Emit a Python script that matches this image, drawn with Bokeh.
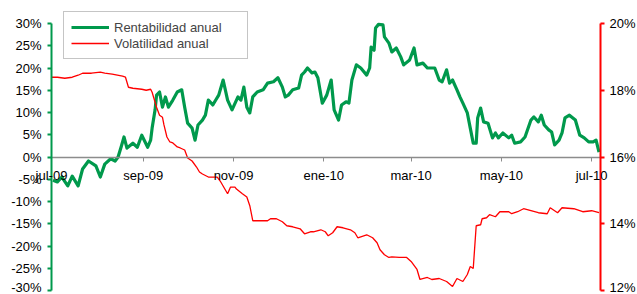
import pandas as pd
from bokeh.plotting import figure
from bokeh.models import (Range1d, LinearAxis, DatetimeAxis, FixedTicker, PrintfTickFormatter,
                          Legend, LegendItem, ColumnDataSource, Label)
from bokeh.embed import file_html
from bokeh.resources import INLINE

# ---------------- data ----------------
rent_dates = [
    "2009-07-02", "2009-07-05", "2009-07-08", "2009-07-12", "2009-07-15", "2009-07-19", "2009-07-22",
    "2009-07-26", "2009-07-31", "2009-08-03", "2009-08-06", "2009-08-10", "2009-08-13", "2009-08-15",
    "2009-08-17", "2009-08-19", "2009-08-21", "2009-08-25", "2009-08-28", "2009-08-31", "2009-09-04",
    "2009-09-06", "2009-09-07", "2009-09-09", "2009-09-10", "2009-09-12", "2009-09-14", "2009-09-16",
    "2009-09-18", "2009-09-21", "2009-09-24", "2009-09-27", "2009-09-29", "2009-10-01", "2009-10-04",
    "2009-10-06", "2009-10-08", "2009-10-11", "2009-10-13", "2009-10-15", "2009-10-18", "2009-10-20",
    "2009-10-22", "2009-10-25", "2009-10-28", "2009-10-31", "2009-11-04", "2009-11-06", "2009-11-08",
    "2009-11-10", "2009-11-12", "2009-11-14", "2009-11-17", "2009-11-21", "2009-11-24", "2009-11-28",
    "2009-12-01", "2009-12-04", "2009-12-06", "2009-12-08", "2009-12-11", "2009-12-15", "2009-12-17",
    "2009-12-19", "2009-12-21", "2009-12-24", "2009-12-26", "2009-12-28", "2009-12-31", "2010-01-03",
    "2010-01-06", "2010-01-08", "2010-01-11", "2010-01-13", "2010-01-16", "2010-01-18", "2010-01-20",
    "2010-01-23", "2010-01-26", "2010-01-30", "2010-02-01", "2010-02-02", "2010-02-04", "2010-02-05",
    "2010-02-07", "2010-02-10", "2010-02-11", "2010-02-14", "2010-02-16", "2010-02-19", "2010-02-22",
    "2010-02-24", "2010-02-28", "2010-03-03", "2010-03-05", "2010-03-09", "2010-03-12", "2010-03-17",
    "2010-03-20", "2010-03-22", "2010-03-25", "2010-03-27", "2010-03-29", "2010-04-01", "2010-04-03",
    "2010-04-05", "2010-04-08", "2010-04-10", "2010-04-12", "2010-04-14", "2010-04-15", "2010-04-17",
    "2010-04-19", "2010-04-22", "2010-04-25", "2010-04-27", "2010-04-29", "2010-05-02", "2010-05-06",
    "2010-05-08", "2010-05-10", "2010-05-14", "2010-05-17", "2010-05-21", "2010-05-23", "2010-05-26",
    "2010-05-28", "2010-05-30", "2010-06-02", "2010-06-04", "2010-06-06", "2010-06-09", "2010-06-11",
    "2010-06-13", "2010-06-16", "2010-06-20", "2010-06-23", "2010-06-26", "2010-06-29", "2010-07-02",
    "2010-07-04", "2010-07-06",
]
rent_values = [
    -5.2, -5.6, -4.5, -6.5, -4.3, -6.5, -2.7,
    -0.9, -2.0, -4.5, -1.6, -0.4, -0.9, 0.0,
    2.2, 4.5, 2.0, 3.1, 2.2, 4.9, 2.2,
    3.8, 6.5, 10.6, 13.9, 14.6, 11.2, 13.5,
    11.2, 12.8, 14.6, 15.1, 11.2, 7.6, 6.5,
    3.8, 7.2, 8.3, 9.4, 12.8, 11.7, 12.8,
    13.9, 17.3, 12.8, 10.6, 13.5, 12.8, 15.7,
    11.2, 9.9, 13.5, 14.6, 15.1, 16.6, 16.9,
    17.8, 15.7, 13.5, 13.9, 15.1, 15.5, 18.4,
    19.1, 20.0, 18.9, 19.1, 17.8, 12.1, 13.9,
    17.3, 10.6, 8.3, 11.7, 12.4, 12.1, 17.3,
    20.7, 20.0, 18.4, 20.0, 24.7, 24.0, 29.0,
    29.8, 29.7, 27.0, 25.6, 23.6, 24.5, 22.5,
    20.7, 21.8, 24.5, 20.7, 21.1, 20.0, 20.0,
    17.3, 16.9, 19.6, 16.6, 17.3, 15.1, 13.5,
    12.1, 9.9, 6.5, 3.1, 3.1, 8.8, 11.0,
    7.9, 7.6, 4.3, 5.4, 4.3, 5.4, 4.3,
    4.9, 3.1, 3.4, 4.5, 8.3, 9.0, 7.9,
    9.4, 7.2, 6.1, 5.6, 2.7, 3.8, 5.4,
    8.8, 9.4, 8.3, 4.9, 4.3, 3.4, 3.4,
    3.8, 1.1,
]

vol_dates = [
    "2009-07-01", "2009-07-05", "2009-07-10", "2009-07-15", "2009-07-19", "2009-07-22", "2009-07-28",
    "2009-08-03", "2009-08-06", "2009-08-11", "2009-08-18", "2009-08-20", "2009-08-22", "2009-08-25",
    "2009-08-31", "2009-09-03", "2009-09-06", "2009-09-07", "2009-09-08", "2009-09-10", "2009-09-12",
    "2009-09-14", "2009-09-15", "2009-09-17", "2009-09-19", "2009-09-21", "2009-09-24", "2009-09-26",
    "2009-09-29", "2009-10-01", "2009-10-04", "2009-10-07", "2009-10-09", "2009-10-11", "2009-10-15",
    "2009-10-21", "2009-10-23", "2009-10-28", "2009-10-30", "2009-11-02", "2009-11-03", "2009-11-07",
    "2009-11-10", "2009-11-12", "2009-11-14", "2009-11-18", "2009-11-24", "2009-11-26", "2009-11-30",
    "2009-12-04", "2009-12-07", "2009-12-11", "2009-12-16", "2009-12-19", "2009-12-23", "2009-12-25",
    "2009-12-30", "2010-01-02", "2010-01-04", "2010-01-07", "2010-01-10", "2010-01-14", "2010-01-19",
    "2010-01-22", "2010-01-24", "2010-01-28", "2010-01-30", "2010-02-03", "2010-02-06", "2010-02-08",
    "2010-02-11", "2010-02-14", "2010-02-16", "2010-02-21", "2010-02-26", "2010-03-01", "2010-03-05",
    "2010-03-07", "2010-03-12", "2010-03-15", "2010-03-20", "2010-03-25", "2010-03-29", "2010-04-01",
    "2010-04-05", "2010-04-08", "2010-04-10", "2010-04-12", "2010-04-14", "2010-04-17", "2010-04-18",
    "2010-04-21", "2010-04-23", "2010-04-27", "2010-04-30", "2010-05-06", "2010-05-08", "2010-05-12",
    "2010-05-16", "2010-05-21", "2010-05-26", "2010-06-01", "2010-06-03", "2010-06-08", "2010-06-11",
    "2010-06-19", "2010-06-25", "2010-07-01", "2010-07-06",
]
vol_values = [
    18.39, 18.39, 18.36, 18.39, 18.45, 18.51, 18.51,
    18.54, 18.51, 18.48, 18.42, 18.39, 18.09, 18.06,
    18.03, 18.00, 18.03, 17.94, 17.79, 17.49, 17.25,
    17.19, 16.96, 16.60, 16.45, 16.42, 16.30, 16.27,
    16.21, 15.97, 15.88, 15.70, 15.55, 15.49, 15.40,
    15.40, 15.28, 14.90, 15.10, 15.10, 15.04, 14.90,
    14.80, 14.54, 14.09, 14.09, 14.09, 14.15, 14.15,
    14.06, 13.94, 13.91, 13.85, 13.70, 13.76, 13.76,
    13.82, 13.76, 13.64, 13.73, 13.91, 13.88, 13.82,
    13.73, 13.58, 13.64, 13.67, 13.58, 13.43, 13.22,
    13.07, 12.99, 13.01, 12.99, 12.99, 12.87, 12.63,
    12.33, 12.39, 12.33, 12.36, 12.27, 12.12, 12.36,
    12.27, 12.48, 12.72, 12.66, 13.94, 13.97, 14.15,
    14.18, 14.27, 14.21, 14.36, 14.36, 14.30, 14.36,
    14.45, 14.39, 14.33, 14.30, 14.48, 14.33, 14.48,
    14.45, 14.36, 14.39, 14.33,
]

left_ticks = [-30, -25, -20, -15, -10, -5, 0, 5, 10, 15, 20, 25, 30]
right_ticks = [12, 14, 16, 18, 20]
x_tick_dates = ["2009-07-01", "2009-09-01", "2009-11-01", "2010-01-01", "2010-03-01", "2010-05-01", "2010-07-01"]
x_tick_labels = ["jul-09", "sep-09", "nov-09", "ene-10", "mar-10", "may-10", "jul-10"]
x_axis_level = 0
x_start = "2009-07-01"
x_end = "2010-07-07"

# ---------------- layout / style ----------------
W, H = 637, 294
PLOT_L, PLOT_R, PLOT_T, PLOT_B = 51, 600, 23, 290   # pixel box of the axes
GREEN = "#00994C"
RED = "#FF0000"
GRAY = "#8C8C8C"
FONT = "Liberation Sans"

t0 = pd.Timestamp(x_start).value // 10**6
t1 = pd.Timestamp(x_end).value // 10**6
ms_per_px = (t1 - t0) / (PLOT_R - PLOT_L)
xr = Range1d(start=t0 - PLOT_L * ms_per_px, end=t1 + (W - PLOT_R) * ms_per_px)

def yrange(lo, hi):
    per_px = (hi - lo) / (PLOT_B - PLOT_T)
    return Range1d(start=lo - (H - PLOT_B) * per_px, end=hi + PLOT_T * per_px)

p = figure(width=W, height=H, x_range=xr, y_range=yrange(left_ticks[0], left_ticks[-1]),
           x_axis_type=None, y_axis_type=None,
           output_backend="svg", toolbar_location=None,
           min_border=0, min_border_left=0, min_border_right=0, min_border_top=0, min_border_bottom=0)
p.extra_y_ranges = {"vol": yrange(right_ticks[0], right_ticks[-1])}
p.outline_line_color = None
p.background_fill_color = "white"
p.border_fill_color = "white"

rent_src = ColumnDataSource(dict(x=pd.to_datetime(rent_dates), y=rent_values))
vol_src = ColumnDataSource(dict(x=pd.to_datetime(vol_dates), y=vol_values))

r_rent = p.line("x", "y", source=rent_src, line_color=GREEN, line_width=3.2, line_join="round")
r_vol = p.line("x", "y", source=vol_src, line_color=RED, line_width=1.3, y_range_name="vol")

def style_axis(ax, color, standoff):
    ax.axis_line_color = color
    ax.axis_line_width = 2
    ax.major_tick_line_color = color
    ax.major_tick_line_width = 2
    ax.major_tick_out = 4
    ax.major_tick_in = 0
    ax.minor_tick_line_color = None
    ax.major_label_text_font = FONT
    ax.major_label_text_font_size = "13px"
    ax.major_label_text_color = "black"
    ax.major_label_standoff = standoff

# left axis
yl = LinearAxis(ticker=FixedTicker(ticks=left_ticks), formatter=PrintfTickFormatter(format="%d%%"),
                bounds=(left_ticks[0], left_ticks[-1]), fixed_location=t0)
style_axis(yl, GREEN, 6)
p.add_layout(yl, "left")

# right axis
yr = LinearAxis(y_range_name="vol", ticker=FixedTicker(ticks=right_ticks),
                formatter=PrintfTickFormatter(format="%d%%"),
                bounds=(right_ticks[0], right_ticks[-1]), fixed_location=t1)
style_axis(yr, RED, 5)
p.add_layout(yr, "right")

# x axis crossing at 0 (line + ticks), labels as annotations
tick_ms = [pd.Timestamp(d).value // 10**6 for d in x_tick_dates]
xa = DatetimeAxis(fixed_location=x_axis_level, ticker=FixedTicker(ticks=tick_ms), bounds=(t0, t1))
style_axis(xa, GRAY, 8)
xa.axis_line_width = 1.5
xa.major_tick_line_width = 1
xa.major_label_text_color = None
p.add_layout(xa, "below")

for t, txt in zip(tick_ms, x_tick_labels):
    p.add_layout(Label(x=t, y=x_axis_level, x_units="data", y_units="data", y_offset=-11,
                       text=txt, text_align="center", text_baseline="top",
                       text_font=FONT, text_font_size="13px", text_color="black"))

legend = Legend(items=[LegendItem(label="Rentabilidad anual", renderers=[r_rent]),
                       LegendItem(label="Volatilidad anual", renderers=[r_vol])],
                location=(63, H - 59), padding=7, spacing=0, margin=0,
                glyph_width=38, glyph_height=16, label_height=16, label_standoff=5, label_width=126,
                label_text_font=FONT, label_text_font_size="13px",
                border_line_color=GRAY, border_line_width=1.5,
                background_fill_color="white", background_fill_alpha=1)
p.add_layout(legend)

open("out.html", "w").write(file_html(p, INLINE))
